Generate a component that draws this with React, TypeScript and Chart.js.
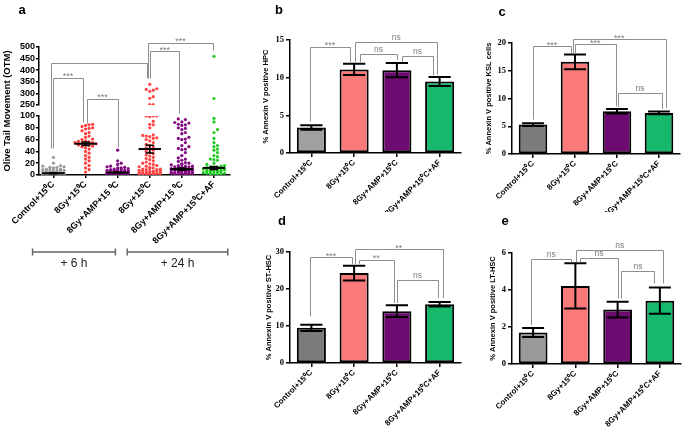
import React, { useEffect, useRef } from "react";
import { Chart, registerables } from "chart.js";
Chart.register(...registerables);

const SANS = "'Liberation Sans', Arial, sans-serif";
const SERIF = "'Liberation Serif', 'Times New Roman', serif";

// ---------------- Panel a data ----------------
const aCategories = ["Control+15⁰C", "8Gy+15⁰C", "8Gy+AMP+15 ⁰C", "8Gy+15⁰C", "8Gy+AMP+15 ⁰C", "8Gy+AMP+15⁰C+AF"];
const aControl6h = [30, 20, 16, 15, 14, 13, 13, 12, 11, 10, 10, 9, 9, 8, 8, 7, 7, 6, 6, 5, 5, 5, 4, 4, 4, 3, 3, 3, 3, 2, 2, 2, 2, 2, 1, 1, 1, 1, 1, 0.5, 0.5, 0.5];
const aIrr6h = [86, 85, 84, 82, 80, 79, 78, 75, 72, 70, 66, 64, 61, 60, 58, 57, 56, 55, 55, 54, 53, 52, 51, 50, 49, 48, 46, 44, 40, 37, 33, 30, 27, 24, 20, 16, 12, 9, 5];
const aAmp6h = [42, 24, 20, 18, 15, 14, 13, 12, 12, 11, 10, 10, 9, 9, 8, 8, 8, 7, 7, 7, 6, 6, 6, 5, 5, 5, 5, 4, 4, 4, 4, 3, 3, 3, 3, 2, 2, 2, 2, 1, 1, 1, 1, 0.5, 0.5, 0.5];
const aIrr24h = [339, 320, 317, 314, 309, 286, 279, 252, 252, 100, 100, 100, 99, 91, 86, 85, 80, 68, 67, 66, 65, 63, 62, 60, 58, 55, 52, 50, 48, 46, 44, 42, 40, 38, 36, 34, 32, 30, 28, 26, 24, 22, 20, 19, 18, 16, 15, 14, 13, 12, 11, 10, 10, 9, 9, 8, 8, 7, 7, 6, 6, 5, 5, 5, 4, 4, 4, 3, 3, 3, 2, 2, 2, 1, 1, 1, 0.5, 0.5];
const aAmp24h = [95, 94, 90, 89, 88, 86, 85, 84, 80, 79, 77, 72, 70, 64, 62, 61, 60, 55, 50, 48, 45, 44, 43, 38, 33, 29, 27, 25, 23, 21, 20, 19, 18, 17, 16, 15, 15, 14, 14, 13, 13, 12, 12, 11, 11, 10, 10, 10, 9, 9, 9, 8, 8, 8, 7, 7, 7, 6, 6, 6, 5, 5, 5, 4, 4, 4, 3, 3, 3, 2, 2, 2, 1, 1, 1];
const aAf24h = [460, 278, 96, 90, 77, 72, 62, 55, 50, 48, 44, 42, 38, 33, 31, 27, 26, 25, 20, 18, 16, 15, 14, 13, 13, 12, 12, 11, 11, 10, 10, 10, 9, 9, 8, 8, 7, 7, 6, 6, 5, 5, 4, 4, 3, 3, 2, 2, 1, 1];
const aGroups = [aControl6h, aIrr6h, aAmp6h, aIrr24h, aAmp24h, aAf24h];
const aCenters = [3, 53, 4, 44, 10, 12];
const aSems = [0.8, 3, 1, 6.5, 2, 2.5];
const aColors = ["#9b9b9b", "#ff3b3b", "#800a80", "#ff4545", "#800a80", "#22cc22"];
const aBottomTicks = [0, 100, 20];
const aTopTicks = [250, 500, 50];
const aBrackets = [
  { x1: 0.0, y1: ["yBot", 45], x2: 0.91, y2: ["yBot", 89], top: ["yTop", 368], label: "***" },
  { x1: 1.06, y1: ["yBot", 87], x2: 2.0, y2: ["yBot", 47], top: ["yTop", 277], label: "***" },
  { x1: -0.09, y1: ["yBot", 45], x2: 2.91, y2: ["yTop", 364], top: ["yTop", 432], label: "" },
  { x1: 3.02, y1: ["yTop", 364], x2: 3.92, y2: ["yBot", 104], top: ["yTop", 482], label: "***" },
  { x1: 2.95, y1: ["yTop", 364], x2: 4.97, y2: ["yTop", 486], top: ["yTop", 518], label: "***" },
];
const aTimeGroups = [
  { label: "+ 6 h", from: -0.65, to: 1.93 },
  { label: "+ 24 h", from: 2.3, to: 5.43 },
];

// ---------------- Panels b–e data ----------------
const barCategories = ["Control+15⁰C", "8Gy+15⁰C", "8Gy+AMP+15⁰C", "8Gy+AMP+15⁰C+AF"];
const hpcMeans = [3.4, 11.1, 11.0, 9.5];
const hpcErrors = [0.3, 0.75, 0.95, 0.6];
const kslMeans = [5.3, 16.6, 7.7, 7.4];
const kslErrors = [0.25, 1.35, 0.4, 0.25];
const stMeans = [9.5, 24.3, 14.0, 15.9];
const stErrors = [0.85, 2.0, 1.6, 0.6];
const ltMeans = [1.7, 4.22, 2.94, 3.42];
const ltErrors = [0.24, 1.22, 0.43, 0.71];

const hpcBrackets = [
  { x1: -0.03, y1: 4.2, x2: 0.9, y2: 12.1, top: 14.1, label: "***" },
  { x1: 1.02, y1: 12.1, x2: 2.95, y2: 10.4, top: 14.8, label: "ns" },
  { x1: 1.14, y1: 12.1, x2: 2.0, y2: 12.35, top: 13.2, label: "ns" },
  { x1: 2.12, y1: 12.1, x2: 2.85, y2: 10.3, top: 12.9, label: "ns" },
];
const kslBrackets = [
  { x1: 0.0, y1: 6.2, x2: 0.9, y2: 18.2, top: 19.4, label: "***" },
  { x1: 1.0, y1: 18.2, x2: 1.97, y2: 8.6, top: 19.8, label: "***" },
  { x1: 0.95, y1: 18.2, x2: 3.16, y2: 8.3, top: 20.7, label: "***" },
  { x1: 2.03, y1: 8.5, x2: 3.06, y2: 8.1, top: 11.0, label: "ns" },
];
const stBrackets = [
  { x1: -0.03, y1: 12.6, x2: 0.95, y2: 26.8, top: 28.6, label: "***" },
  { x1: 1.01, y1: 26.8, x2: 3.08, y2: 17.6, top: 30.8, label: "**" },
  { x1: 1.11, y1: 26.8, x2: 1.93, y2: 16.2, top: 27.9, label: "**" },
  { x1: 2.0, y1: 16.2, x2: 2.97, y2: 17.6, top: 22.5, label: "ns" },
];
const ltBrackets = [
  { x1: -0.04, y1: 2.1, x2: 0.9, y2: 5.51, top: 5.69, label: "ns" },
  { x1: 1.02, y1: 5.51, x2: 3.08, y2: 4.35, top: 6.14, label: "ns" },
  { x1: 1.12, y1: 5.51, x2: 2.0, y2: 3.54, top: 5.73, label: "ns" },
  { x1: 2.09, y1: 3.54, x2: 2.87, y2: 4.35, top: 5.01, label: "ns" },
];

// ---------------- helpers ----------------
function swarm(values: number[], group: number, bin: number) {
  const slots = [0, 1, -1, 2, -2, 3, -3];
  const dx = 0.11;
  const placed: { k: number; y: number }[] = [];
  const out: { x: number; y: number }[] = [];
  [...values].sort((a, b) => a - b).forEach((v) => {
    let best = 0;
    let bestCount = Infinity;
    for (const s of slots) {
      const c = placed.filter((p) => p.k === s && Math.abs(p.y - v) < bin).length;
      if (c < bestCount) {
        best = s;
        bestCount = c;
      }
      if (c === 0) break;
    }
    placed.push({ k: best, y: v });
    out.push({ x: group + best * dx, y: v });
  });
  return out;
}

function drawBracket(ctx: CanvasRenderingContext2D, px1: number, py1: number, px2: number, py2: number, ptop: number, label: string) {
  ctx.save();
  ctx.strokeStyle = "#8e8e8e";
  ctx.lineWidth = 1;
  ctx.beginPath();
  ctx.moveTo(Math.round(px1) + 0.5, py1);
  ctx.lineTo(Math.round(px1) + 0.5, Math.round(ptop) + 0.5);
  ctx.lineTo(Math.round(px2) + 0.5, Math.round(ptop) + 0.5);
  ctx.lineTo(Math.round(px2) + 0.5, py2);
  ctx.stroke();
  if (label) {
    const star = label.includes("*");
    ctx.fillStyle = "#7c7c7c";
    ctx.font = `${star ? 9 : 8.5}px ${SANS}`;
    ctx.textAlign = "center";
    ctx.textBaseline = "alphabetic";
    ctx.fillText(label, (px1 + px2) / 2, star ? ptop + 1.5 : ptop - 2);
  }
  ctx.restore();
}

function drawLetter(ctx: CanvasRenderingContext2D, letter: string, x: number, y: number) {
  ctx.save();
  ctx.fillStyle = "#000";
  ctx.font = `bold 13px ${SANS}`;
  ctx.textAlign = "center";
  ctx.textBaseline = "alphabetic";
  ctx.fillText(letter, x, y);
  ctx.restore();
}

// ---------------- Panel a config ----------------
function makePanelA(): any {
  const datasets: any[] = [];
  aGroups.forEach((vals, i) => {
    const bot = vals.filter((v) => v <= aBottomTicks[1] + 5);
    const top = vals.filter((v) => v > aBottomTicks[1] + 5);
    datasets.push({ data: swarm(bot, i, 5.5), xAxisID: "x", yAxisID: "yBot", backgroundColor: aColors[i], pointRadius: 1.6, pointBorderWidth: 0 });
    if (top.length) datasets.push({ data: swarm(top, i, 16), xAxisID: "x", yAxisID: "yTop", backgroundColor: aColors[i], pointRadius: 1.6, pointBorderWidth: 0 });
  });
  const axisCommon = {
    type: "linear",
    position: "left",
    stack: "a",
    grid: { drawOnChartArea: false, tickLength: 3, color: "#000", lineWidth: 1.5 },
    border: { color: "#000", width: 1.5 },
    ticks: { font: { family: SANS, size: 9, weight: "bold" }, color: "#000", padding: 1, autoSkip: false },
    afterFit: (s: any) => { s.width = 39; },
  };
  const plugin = {
    id: "panelA",
    afterDatasetsDraw(chart: any) {
      const { ctx } = chart;
      const xs = chart.scales.x;
      const yb = chart.scales.yBot;
      const unit = xs.getPixelForValue(1) - xs.getPixelForValue(0);
      ctx.save();
      ctx.strokeStyle = "#000";
      aCenters.forEach((c, i) => {
        const x = xs.getPixelForValue(i);
        const y = yb.getPixelForValue(c);
        ctx.lineWidth = 2;
        ctx.beginPath();
        ctx.moveTo(x - 0.35 * unit, y);
        ctx.lineTo(x + 0.35 * unit, y);
        ctx.stroke();
        const e1 = yb.getPixelForValue(c + aSems[i]);
        const e2 = yb.getPixelForValue(Math.max(0, c - aSems[i]));
        ctx.lineWidth = 1.5;
        ctx.beginPath();
        ctx.moveTo(x, e1);
        ctx.lineTo(x, e2);
        ctx.moveTo(x - 0.13 * unit, e1);
        ctx.lineTo(x + 0.13 * unit, e1);
        ctx.moveTo(x - 0.13 * unit, e2);
        ctx.lineTo(x + 0.13 * unit, e2);
        ctx.stroke();
      });
      ctx.restore();
    },
    afterDraw(chart: any) {
      const { ctx, chartArea } = chart;
      const xs = chart.scales.x;
      aBrackets.forEach((b: any) => {
        const py = (p: any) => chart.scales[p[0]].getPixelForValue(p[1]);
        drawBracket(ctx, xs.getPixelForValue(b.x1), py(b.y1), xs.getPixelForValue(b.x2), py(b.y2), py(b.top), b.label);
      });
      // y title
      ctx.save();
      ctx.translate(7, (chartArea.top + chartArea.bottom) / 2);
      ctx.rotate(-Math.PI / 2);
      ctx.font = `bold 9.5px ${SANS}`;
      ctx.fillStyle = "#000";
      ctx.textAlign = "center";
      ctx.textBaseline = "middle";
      ctx.fillText("Olive Tail Movement (OTM)", 0, 0);
      ctx.restore();
      // time groups
      const ly = chartArea.bottom + 77;
      aTimeGroups.forEach((g) => {
        const x1 = xs.getPixelForValue(g.from);
        const x2 = xs.getPixelForValue(g.to);
        ctx.save();
        ctx.strokeStyle = "#666";
        ctx.lineWidth = 1.5;
        ctx.beginPath();
        ctx.moveTo(x1, ly);
        ctx.lineTo(x2, ly);
        ctx.moveTo(x1, ly - 3.5);
        ctx.lineTo(x1, ly + 3.5);
        ctx.moveTo(x2, ly - 3.5);
        ctx.lineTo(x2, ly + 3.5);
        ctx.stroke();
        ctx.fillStyle = "#222";
        ctx.font = `12px ${SANS}`;
        ctx.textAlign = "center";
        ctx.textBaseline = "alphabetic";
        ctx.fillText(g.label, (x1 + x2) / 2, ly + 15);
        ctx.restore();
      });
      drawLetter(ctx, "a", 22, 13.5);
    },
  };
  return {
    type: "scatter",
    data: { datasets },
    options: {
      animation: false,
      responsive: false,
      layout: { padding: { left: 0, top: 47, right: 10, bottom: 0 } },
      plugins: { legend: { display: false }, tooltip: { enabled: false } },
      scales: {
        x: {
          type: "linear",
          min: -0.45,
          max: 5.5,
          afterBuildTicks: (s: any) => { s.ticks = aCategories.map((_, i) => ({ value: i })); },
          ticks: {
            callback: (v: any) => aCategories[v],
            autoSkip: false,
            minRotation: 45,
            maxRotation: 45,
            padding: 1,
            font: { family: SANS, size: 9, weight: "bold" },
            color: "#000",
          },
          grid: { drawOnChartArea: false, tickLength: 3, color: "#000", lineWidth: 1.5 },
          border: { color: "#000", width: 1.5 },
          afterFit: (s: any) => { s.height = 125; },
        },
        yTop: { ...axisCommon, stackWeight: 58, weight: 3, min: aTopTicks[0], max: aTopTicks[1], ticks: { ...axisCommon.ticks, stepSize: aTopTicks[2] } },
        yGap: { type: "linear", position: "left", stack: "a", stackWeight: 11, weight: 2, display: false, min: 0, max: 1 },
        yBot: { ...axisCommon, stackWeight: 59, weight: 1, min: aBottomTicks[0], max: aBottomTicks[1], ticks: { ...axisCommon.ticks, stepSize: aBottomTicks[2] } },
      },
    },
    plugins: [plugin],
  };
}

// ---------------- Bar panels config ----------------
function makeBarPanel(p: any): any {
  const plugin = {
    id: "bars" + p.letter,
    afterDatasetsDraw(chart: any) {
      const { ctx } = chart;
      const xs = chart.scales.x;
      const ys = chart.scales.y;
      const unit = xs.getPixelForValue(1) - xs.getPixelForValue(0);
      ctx.save();
      ctx.strokeStyle = "#000";
      ctx.lineWidth = 2;
      p.means.forEach((m: number, i: number) => {
        const x = xs.getPixelForValue(i);
        const t = ys.getPixelForValue(m + p.errors[i]);
        const b = ys.getPixelForValue(m - p.errors[i]);
        const hw = 0.26 * unit;
        ctx.beginPath();
        ctx.moveTo(x, t);
        ctx.lineTo(x, b);
        ctx.moveTo(x - hw, t);
        ctx.lineTo(x + hw, t);
        ctx.moveTo(x - hw, b);
        ctx.lineTo(x + hw, b);
        ctx.stroke();
      });
      ctx.restore();
    },
    afterDraw(chart: any) {
      const { ctx } = chart;
      const xs = chart.scales.x;
      const ys = chart.scales.y;
      p.brackets.forEach((b: any) => {
        drawBracket(ctx, xs.getPixelForValue(b.x1), ys.getPixelForValue(b.y1), xs.getPixelForValue(b.x2), ys.getPixelForValue(b.y2), ys.getPixelForValue(b.top), b.label);
      });
      drawLetter(ctx, p.letter, p.letterX, p.letterY);
    },
  };
  return {
    type: "bar",
    data: {
      labels: barCategories,
      datasets: [
        {
          data: p.means,
          backgroundColor: p.colors,
          borderColor: "#000",
          borderWidth: 2,
          borderSkipped: false,
          barPercentage: 0.68,
          categoryPercentage: 1,
        },
      ],
    },
    options: {
      animation: false,
      responsive: false,
      layout: { padding: { left: 0, top: p.top, right: p.right, bottom: 0 } },
      plugins: { legend: { display: false }, tooltip: { enabled: false } },
      scales: {
        x: {
          grid: { drawOnChartArea: false, offset: false, tickLength: 4, color: "#000", lineWidth: 1.5 },
          border: { color: "#000", width: 1.5 },
          ticks: {
            autoSkip: false,
            minRotation: 45,
            maxRotation: 45,
            padding: 1,
            font: { family: SANS, size: 8, weight: "bold" },
            color: "#000",
          },
          afterFit: (s: any) => { s.height = p.xHeight; },
        },
        y: {
          min: 0,
          max: p.max,
          ticks: { stepSize: p.step, font: { family: SERIF, size: 8.5, weight: "bold" }, color: "#000", padding: 2 },
          grid: { drawOnChartArea: false, tickLength: 4, color: "#000", lineWidth: 1.5 },
          border: { color: "#000", width: 1.5 },
          title: {
            display: true,
            text: p.title,
            color: "#000",
            font: { family: SANS, size: 7.5, weight: "bold" },
            padding: { top: p.titlePad, bottom: 0 },
          },
          afterFit: (s: any) => { s.width = p.yWidth; },
        },
      },
    },
    plugins: [plugin],
  };
}

const panelB = { letter: "b", letterX: 44, letterY: 13.5, means: hpcMeans, errors: hpcErrors, brackets: hpcBrackets, colors: ["#a0a0a0", "#fa7a7a", "#6e0b70", "#16b86b"], max: 15, step: 5, title: "% Annexin V positive HPC", top: 40, right: 6, xHeight: 59, yWidth: 55, titlePad: 26 };
const panelC = { letter: "c", letterX: 42, letterY: 16, means: kslMeans, errors: kslErrors, brackets: kslBrackets, colors: ["#7b7b7b", "#fa7a7a", "#6e0b70", "#16b86b"], max: 20, step: 5, title: "% Annexin V positive KSL cells", top: 43, right: 5, xHeight: 58, yWidth: 52, titlePad: 24 };
const panelD = { letter: "d", letterX: 47, letterY: 9.5, means: stMeans, errors: stErrors, brackets: stBrackets, colors: ["#7b7b7b", "#fa7a7a", "#6e0b70", "#16b86b"], max: 30, step: 10, title: "% Annexin V positive ST-HSC", top: 37, right: 6, xHeight: 67, yWidth: 55, titlePad: 29 };
const panelE = { letter: "e", letterX: 45, letterY: 10, means: ltMeans, errors: ltErrors, brackets: ltBrackets, colors: ["#9a9a9a", "#fa7a7a", "#6e0b70", "#16b86b"], max: 6, step: 2, title: "% Annexin V positive LT-HSC", top: 38, right: 4, xHeight: 66, yWidth: 52, titlePad: 28 };

function ChartCanvas({ left, top, width, height, make }: any) {
  const ref = useRef<HTMLCanvasElement>(null);
  useEffect(() => {
    const chart = new Chart(ref.current as HTMLCanvasElement, make());
    return () => chart.destroy();
  }, []);
  return <canvas ref={ref} width={width} height={height} style={{ position: "absolute", left, top, width, height }} />;
}

export default function App() {
  return (
    <div style={{ position: "absolute", left: 0, top: 0, width: 685, height: 430, background: "#fff", overflow: "hidden" }}>
      <ChartCanvas left={0} top={0} width={240} height={300} make={makePanelA} />
      <ChartCanvas left={235} top={0} width={232} height={212} make={() => makeBarPanel(panelB)} />
      <ChartCanvas left={460} top={0} width={225} height={212} make={() => makeBarPanel(panelC)} />
      <ChartCanvas left={235} top={215} width={232} height={215} make={() => makeBarPanel(panelD)} />
      <ChartCanvas left={460} top={215} width={225} height={215} make={() => makeBarPanel(panelE)} />
    </div>
  );
}
